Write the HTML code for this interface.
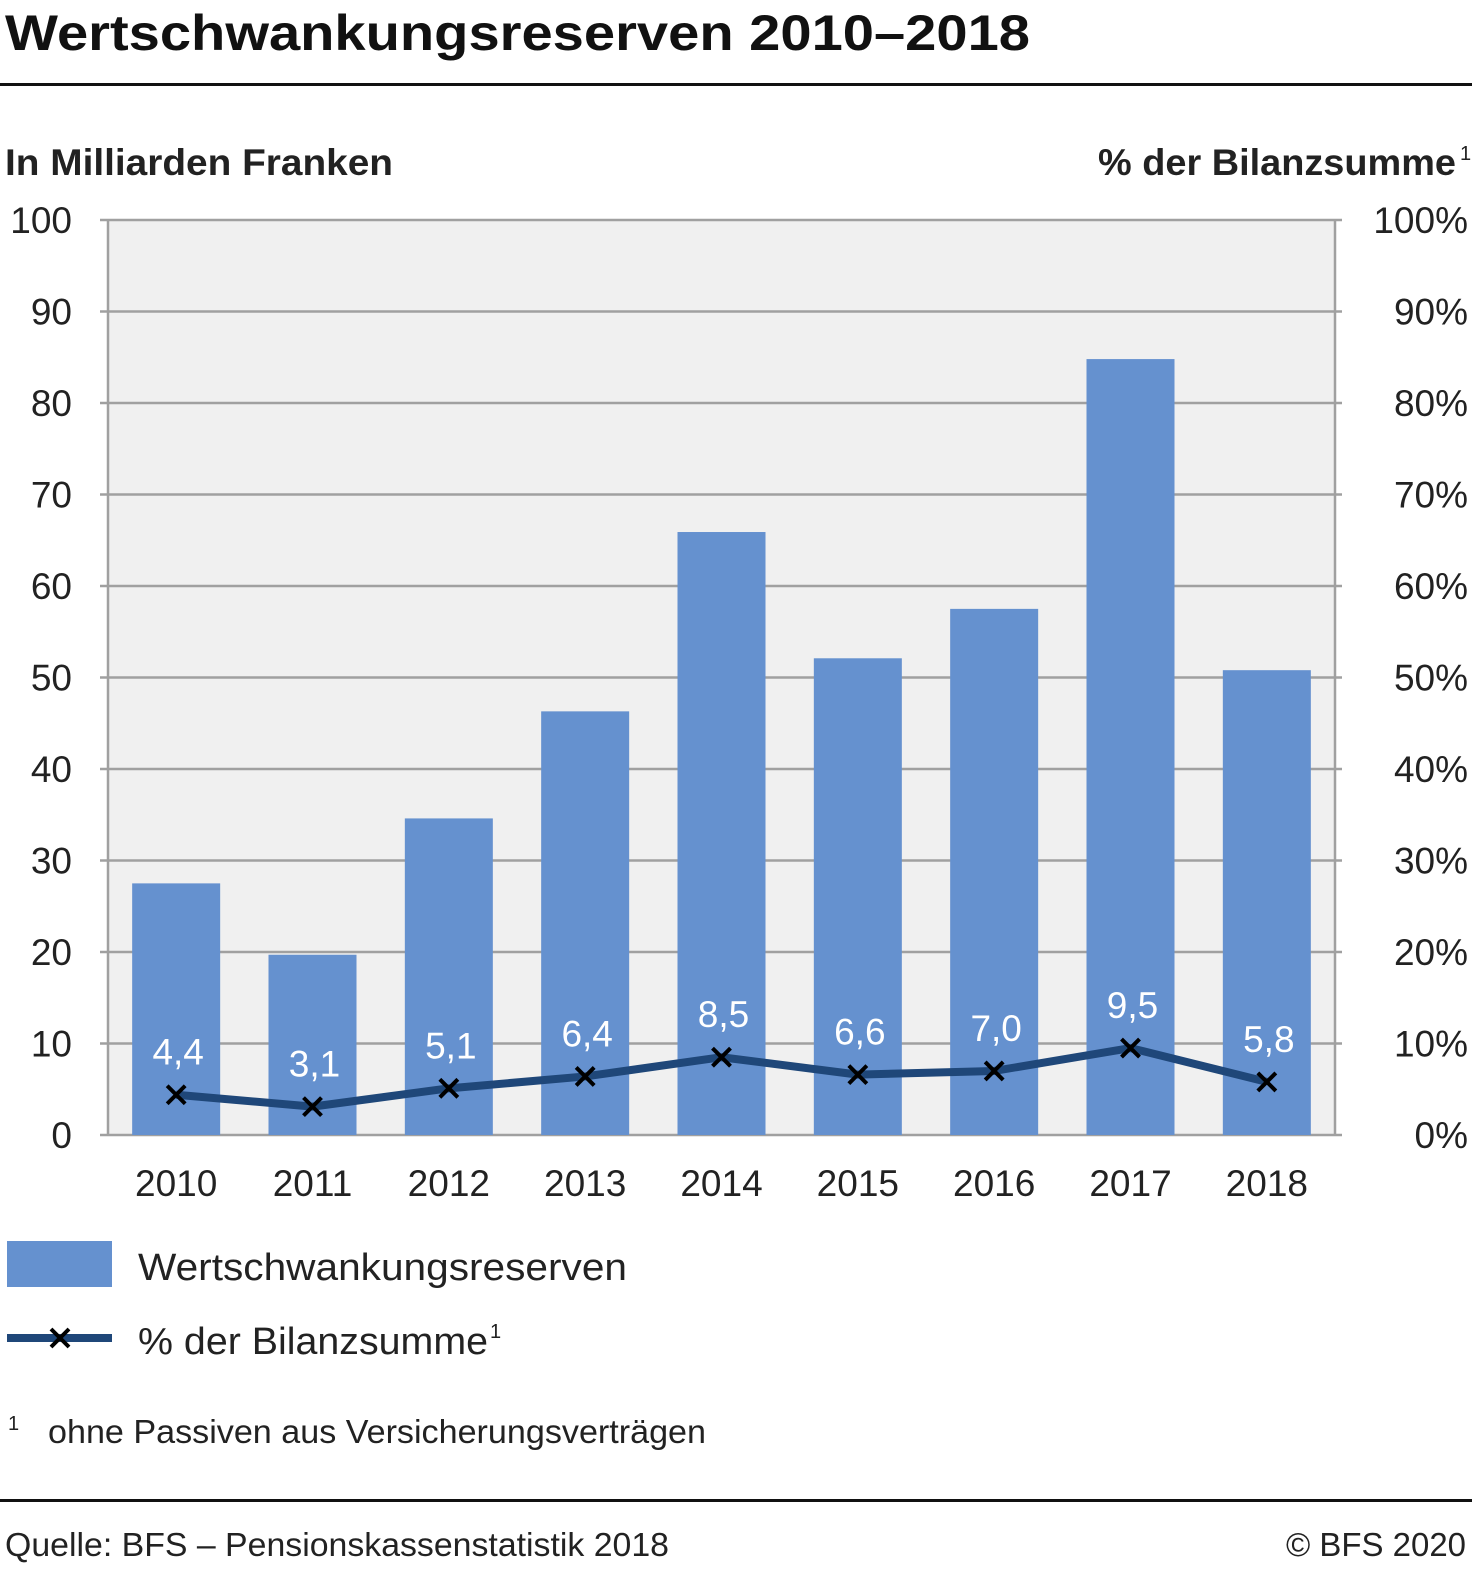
<!DOCTYPE html>
<html><head><meta charset="utf-8"><style>
body{margin:0;background:#fff;width:1472px;height:1564px;overflow:hidden;font-family:"Liberation Sans",sans-serif;}
</style></head><body>
<svg width="1472" height="1564" xmlns="http://www.w3.org/2000/svg" style="font-family:'Liberation Sans',sans-serif">
<text x="5" y="50" font-size="50" font-weight="bold" fill="#111" textLength="1025" lengthAdjust="spacingAndGlyphs">Wertschwankungsreserven 2010–2018</text>
<rect x="0" y="83" width="1472" height="3" fill="#111"/>
<text x="5" y="175" font-size="37" font-weight="bold" fill="#222" textLength="388" lengthAdjust="spacingAndGlyphs">In Milliarden Franken</text>
<text x="1098" y="175" font-size="37" font-weight="bold" fill="#222" textLength="358" lengthAdjust="spacingAndGlyphs">% der Bilanzsumme</text>
<text x="1460" y="160" font-size="20" fill="#222">1</text>
<rect x="108" y="220" width="1227" height="915" fill="#f0f0f0"/>
<g id="grid"></g>
<g id="bars"></g>
<g id="line"></g>
<g id="xlabels"></g>
<rect x="7" y="1241" width="105" height="46" fill="#6591cf"/>
<text x="138" y="1280" font-size="38" fill="#222" textLength="489" lengthAdjust="spacingAndGlyphs">Wertschwankungsreserven</text>
<line x1="7" y1="1338" x2="112" y2="1338" stroke="#1f4779" stroke-width="8"/>
<path d="M51 1329 L69 1347 M69 1329 L51 1347" stroke="#000" stroke-width="4"/>
<text x="138" y="1354" font-size="38" fill="#222" textLength="350" lengthAdjust="spacingAndGlyphs">% der Bilanzsumme</text>
<text x="490" y="1338" font-size="20" fill="#222">1</text>
<text x="8" y="1430" font-size="20" fill="#222">1</text>
<text x="48" y="1443" font-size="33" fill="#222" textLength="658" lengthAdjust="spacingAndGlyphs">ohne Passiven aus Versicherungsverträgen</text>
<rect x="0" y="1499" width="1472" height="3" fill="#111"/>
<text x="5" y="1556" font-size="33" fill="#222" textLength="664" lengthAdjust="spacingAndGlyphs">Quelle: BFS – Pensionskassenstatistik 2018</text>
<text x="1286" y="1556" font-size="33" fill="#222" textLength="180" lengthAdjust="spacingAndGlyphs">© BFS 2020</text>
</svg>
<script>
const categories=["2010","2011","2012","2013","2014","2015","2016","2017","2018"];
const reserves=[27.5,19.7,34.6,46.3,65.9,52.1,57.5,84.8,50.8];
const percent=[4.4,3.1,5.1,6.4,8.5,6.6,7.0,9.5,5.8];
const percentLabels=["4,4","3,1","5,1","6,4","8,5","6,6","7,0","9,5","5,8"];
const leftTicks=[0,10,20,30,40,50,60,70,80,90,100];
const rightTicks=["0%","10%","20%","30%","40%","50%","60%","70%","80%","90%","100%"];
const NS="http://www.w3.org/2000/svg";
const X0=108,X1=1335,Y0=1135,Y1=220;
const band=(X1-X0)/categories.length;
const xC=i=>X0+band*(i+0.5);
const y=v=>Y0-(v/100)*(Y0-Y1);
function mk(t,a,p){const e=document.createElementNS(NS,t);for(const k in a)e.setAttribute(k,a[k]);p.appendChild(e);return e;}
const g=document.getElementById('grid');
leftTicks.forEach((t,i)=>{
 const l=mk('line',{x1:100,x2:1342,y1:y(t),y2:y(t),stroke:'#a0a0a0','stroke-width':2.5},g);
 
 
 const a=mk('text',{x:72,y:y(t)+13,'font-size':37,fill:'#222','text-anchor':'end'},g);a.textContent=t;
 
 
 const b=mk('text',{x:1468,y:y(t)+13,'font-size':37,fill:'#222','text-anchor':'end'},g);b.textContent=rightTicks[i];
 
 
});
const vl=mk('line',{x1:108,x2:108,y1:220,y2:1135,stroke:'#a0a0a0','stroke-width':2.5},g);


const vr=mk('line',{x1:1335,x2:1335,y1:220,y2:1135,stroke:'#a0a0a0','stroke-width':2.5},g);


const bg=document.getElementById('bars'),lg=document.getElementById('line'),xg=document.getElementById('xlabels');
reserves.forEach((v,i)=>{
 const r=mk('rect',{x:xC(i)-44,y:y(v),width:88,height:Y0-y(v),fill:'#6591cf'},bg);
 
 
 const t=mk('text',{x:xC(i),y:1196,'font-size':37,fill:'#222','text-anchor':'middle'},xg);t.textContent=categories[i];
 
 
});
const pts=percent.map((p,i)=>xC(i)+','+y(p)).join(' ');
const pl=mk('polyline',{points:pts,fill:'none',stroke:'#1f4779','stroke-width':8,'stroke-linejoin':'round'},lg);


percent.forEach((p,i)=>{
 const cx=xC(i),cy=y(p);
 const m=mk('path',{d:`M${cx-9} ${cy-9} L${cx+9} ${cy+9} M${cx+9} ${cy-9} L${cx-9} ${cy+9}`,stroke:'#000','stroke-width':4},lg);
 
 
 const t=mk('text',{x:cx+2,y:cy-30,'font-size':37,fill:'#fff','text-anchor':'middle'},lg);t.textContent=percentLabels[i];
 
 
});
</script>
</body></html>
